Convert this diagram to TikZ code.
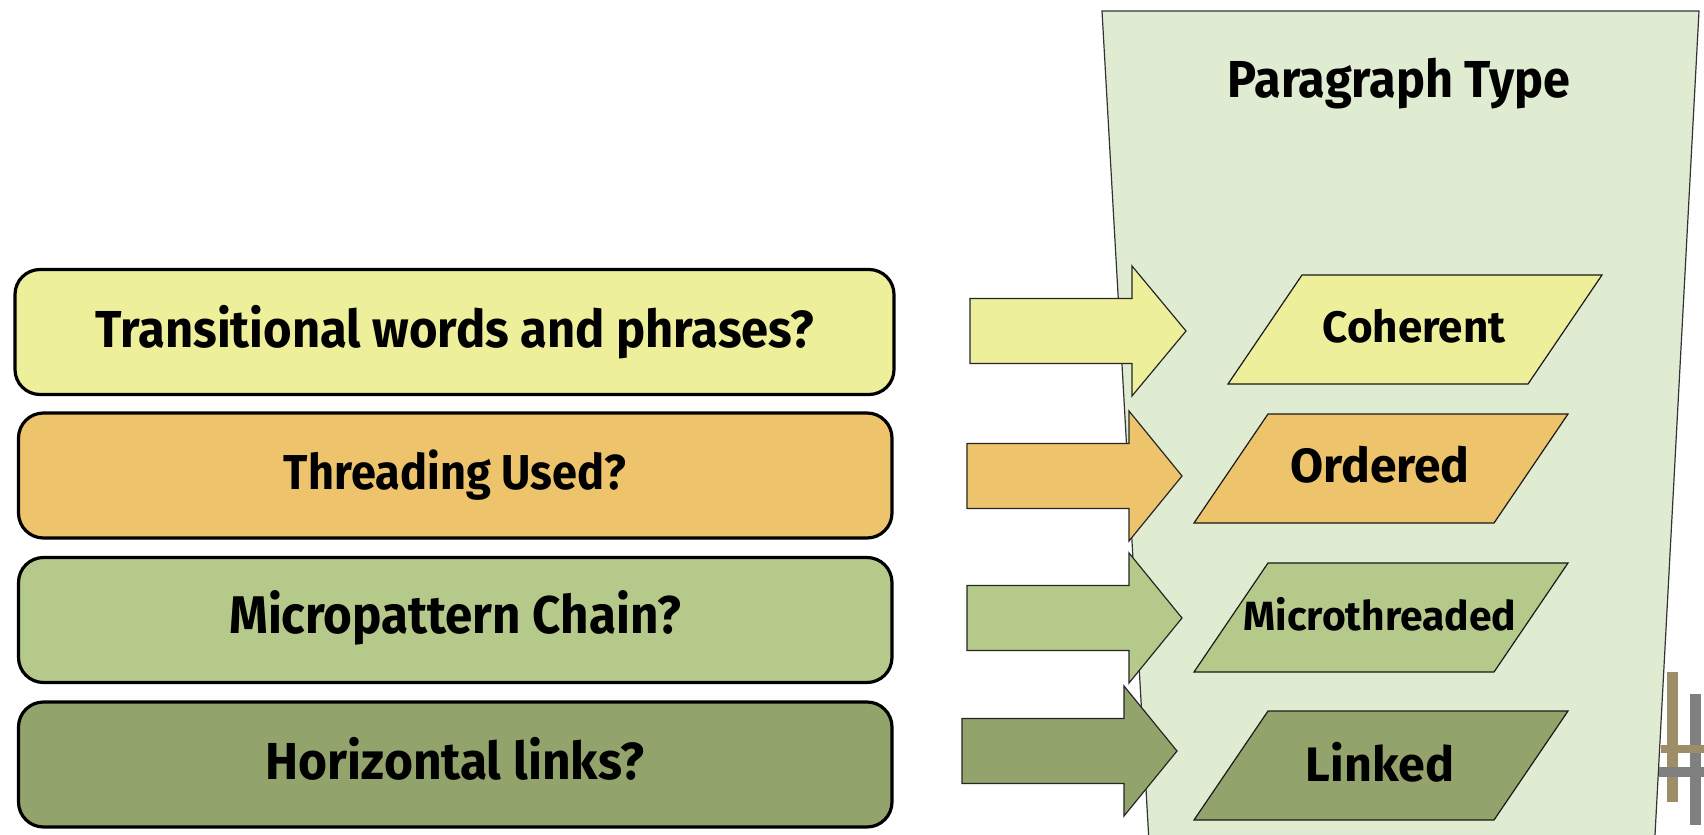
\documentclass[tikz,border=0pt]{standalone}
\usepackage{fontspec}
\setmainfont{Fira Sans}
\definecolor{cyel}{HTML}{EEEF9A}
\definecolor{corg}{HTML}{EDC46C}
\definecolor{cgrA}{HTML}{B5C98A}
\definecolor{cgrB}{HTML}{93A36C}
\definecolor{ctrap}{HTML}{E0ECD2}
\definecolor{ctan}{HTML}{9E8E67}
\definecolor{cgray}{HTML}{808080}
\tikzset{
  qbox/.style={draw=black, line width=1.6pt, rounded corners=12.5pt, minimum width=436.75pt, minimum height=62.5pt, inner sep=0pt},
  qtext/.style={anchor=base, inner sep=0pt},
  ptext/.style={anchor=center, inner sep=0pt},
  arrline/.style={draw=black!85, line width=0.6pt, line join=miter},
  parline/.style={draw=black!90, line width=0.6pt},
}
\newcommand\fsz[1]{\bfseries\fontsize{#1}{#1}\selectfont}
\newcommand\myblockarrow[3]{%
  \draw[arrline, fill=#3, shift={#1}] (0,-32.5) -- (162,-32.5) -- (162,-65) -- (#2,0) -- (162,65) -- (162,32.5) -- (0,32.5) -- cycle;}
\newcommand\myparallel[2]{%
  \draw[parline, fill=#2, shift={#1}] (0,0) -- (300,0) -- (374,-109) -- (74,-109) -- cycle;}
\begin{document}
\begin{tikzpicture}[x=0.5pt,y=-0.5pt]
\useasboundingbox (0,0) rectangle (1704,835);
\fill[white] (0,0) rectangle (1704,835);
% trapezoid
\fill[ctrap] (1148.6,835) -- (1102,11) -- (1699,11) -- (1655,835) -- cycle;
\draw[black!80, line width=0.6pt] (1148.6,835) -- (1102,11) -- (1699,11) -- (1655,835);
\node[ptext, font=\fsz{26}] (title) at (1399,84) {\scalebox{0.935}[1]{Paragraph Type}};
% left boxes
\node[qbox, fill=cyel, minimum width=439.5pt] (b1) at (454.5,332) {};
\node[qbox, fill=corg] (b2) at (455.25,475.5) {};
\node[qbox, fill=cgrA] (b3) at (455.25,620) {};
\node[qbox, fill=cgrB] (b4) at (455.25,764.5) {};
\node[qtext, font=\fsz{26}] (t1) at (455,347) {\scalebox{0.94}[1]{Transitional words and phrases?}};
\node[qtext, font=\fsz{24.5}] (t2) at (455,489.5) {\scalebox{0.92}[1]{Threading Used?}};
\node[qtext, font=\fsz{26.5}] (t3) at (455,633.5) {\scalebox{0.93}[1]{Micropattern Chain?}};
\node[qtext, font=\fsz{26}] (t4) at (455,779) {\scalebox{0.955}[1]{Horizontal links?}};
% arrows
\myblockarrow{(970,331)}{216}{cyel}
\myblockarrow{(967,476)}{215}{corg}
\myblockarrow{(967,618)}{215}{cgrA}
\myblockarrow{(962,751)}{215}{cgrB}
% parallelograms
\myparallel{(1228,384)}{cyel}
\myparallel{(1194,523)}{corg}
\myparallel{(1194,672)}{cgrA}
\myparallel{(1194,820)}{cgrB}
\node[ptext, font=\fsz{22}] (p1) at (1414,326) {Coherent};
\node[ptext, font=\fsz{24}] (p2) at (1380,465) {Ordered};
\node[ptext, font=\fsz{20.4}] (p3) at (1380,614) {Microthreaded};
\node[ptext, font=\fsz{24.2}] (p4) at (1380,762) {Linked};
% corner mark
\fill[ctan] (1666.7,671.7) rectangle (1678,801.7);
\fill[cgray] (1690,694) rectangle (1701.3,825);
\fill[ctan] (1660.7,745) rectangle (1704,753.3);
\fill[cgray] (1659,767) rectangle (1704,776.7);
\end{tikzpicture}
\end{document}
